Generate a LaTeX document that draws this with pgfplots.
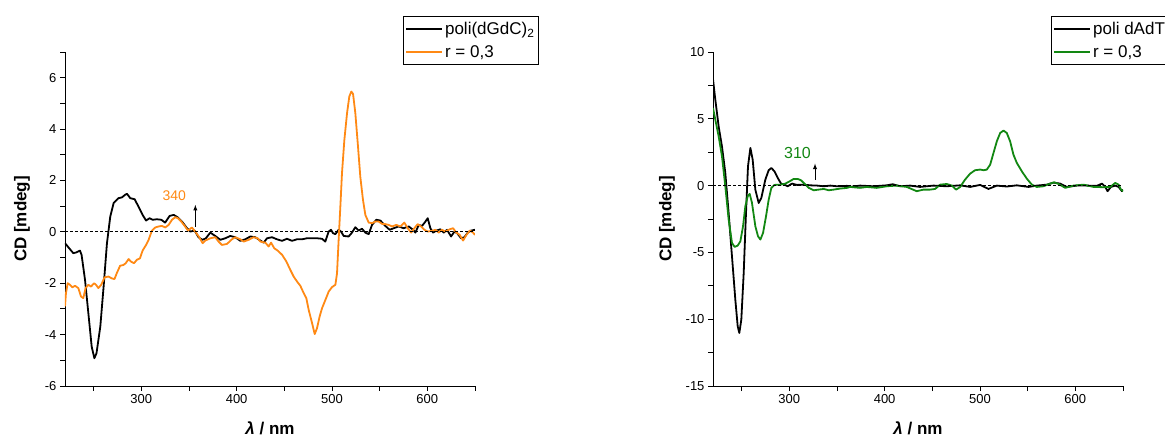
\documentclass[border=0pt]{standalone}
\usepackage{pgfplots}
\pgfplotsset{compat=1.18}
\usepackage{fontspec}
\setmainfont{Liberation Sans}
\definecolor{cdorange}{RGB}{255,137,20}
\definecolor{cdgreen}{RGB}{18,135,18}
\pgfplotsset{
  cdaxis/.style={
    scale only axis, width=410pt, height=334pt,
    axis lines*=left, axis line style={line width=0.9pt},
    tick align=outside, major tick length=5pt, minor tick length=5pt,
    tick style={line width=0.9pt, black},
    xmin=220, xmax=650,
    xtick={300,400,500,600}, minor xtick={250,350,450,550,650},
    xticklabels={300,400,500,600},
    ticklabel style={font=\fontsize{13}{15}\selectfont},
    /pgf/number format/assume math mode=true,
    xlabel={\textbf{\textit{λ} / nm}},
    ylabel={\textbf{CD [mdeg]}},
    label style={font=\fontsize{17}{19}\selectfont},
    xlabel style={at={(axis description cs:0.5,-0.128)}, anchor=center},
    legend cell align=left,
    legend style={font=\fontsize{17}{19}\selectfont, draw=black, line width=0.9pt,
      at={(axis description cs:0.824,1.108)}, anchor=north west,
      inner xsep=2pt, inner ysep=4pt, row sep=5pt},
    legend image code/.code={\draw[#1] (2pt,0pt) -- (38pt,0pt);},
    every axis plot/.append style={line width=1.8pt, line join=round},
  }
}
\begin{document}
\begin{tikzpicture}
\path[use as bounding box] (0,0) rectangle (1165pt,439pt);
% ---------------- left panel ----------------
\begin{axis}[cdaxis, at={(65pt,53pt)}, anchor=south west,
  ymin=-6, ymax=7, ytick={-6,-4,-2,0,2,4,6}, minor ytick={-5,-3,-1,1,3,5,7},
  yticklabels={-6,-4,-2,0,2,4,6},
  ylabel style={at={(axis description cs:-0.105,0.5)}, anchor=center}]
\addplot[black] coordinates {
(220,-0.44)(223.5,-0.6)(228.7,-0.83)(232,-0.8)(235.7,-0.73)(237.4,-0.9)(241,-1.87)(244.5,-3.17)(248,-4.47)(250.8,-4.92)(253,-4.73)(257,-3.7)(260.5,-2.13)(264,-0.44)(267.5,0.6)(271,1.12)(276,1.31)(279.7,1.34)(283,1.44)(285,1.48)(288.5,1.31)(293,1.27)(297,0.99)(301.4,0.66)(305,0.44)(308.7,0.53)(312,0.47)(316.4,0.49)(321,0.47)(325,0.36)(329.7,0.62)(334,0.66)(338,0.57)(342.7,0.40)(348,0.14)(351.4,0.01)(356,0.05)(360,-0.21)(364,-0.31)(367.5,-0.26)
(372.4,-0.03)(377.6,-0.16)(382.9,-0.31)(388.1,-0.25)(393.4,-0.16)(398.6,-0.21)(403.9,-0.35)(409.1,-0.29)(414.4,-0.18)(419.6,-0.21)(424.9,-0.34)(428.4,-0.42)(431.9,-0.25)(437.1,-0.21)(442.3,-0.29)(447.6,-0.35)(452.8,-0.27)(458.1,-0.35)(463.3,-0.29)(468.6,-0.29)(473.8,-0.25)(479.1,-0.25)(484.3,-0.25)(489.6,-0.27)(493,-0.38)(496.5,0.01)(499,0.08)(501,-0.05)(503.5,-0.09)(507,0.08)(509.5,0.01)(512.3,-0.16)(517.5,-0.18)(521,-0.03)(524.5,0.18)(528,0.05)(531.5,0.12)(535,-0.03)(538.5,-0.09)(542,0.27)(546.5,0.47)(550.7,0.44)(556,0.23)(560.5,0.08)(564.7,0.14)(570,0.21)(575.2,0.14)(580.5,0.21)(585,0.08)(587.5,-0.03)(591,0.27)(594.5,0.23)(598,0.40)(600.4,0.53)(603.2,0.14)(606,-0.03)(609.5,0.05)(613.7,0.10)(617.2,-0.03)(620.7,0.08)(624.9,-0.18)(628.4,0.01)(631.2,-0.05)(635.4,-0.25)(638.9,-0.21)(642.4,-0.03)(645.9,0.05)(650,0.08)
};
\addlegendentry{poli(dGdC)\textsubscript{2}}
\addplot[cdorange] coordinates {
(220,-2.9)(221,-2.39)(222.8,-2.0)(225.2,-2.06)(227.7,-2.16)(230.5,-2.1)(234,-2.19)(236.8,-2.52)(239.2,-2.58)(241.6,-2.19)(244.5,-2.06)(247.3,-2.13)(250.5,-2.0)(252.5,-2.06)(255,-2.19)(258,-2.06)(261.5,-1.77)(265.7,-1.74)(269,-1.81)(271.9,-1.84)(274.3,-1.61)(277.8,-1.32)(281.3,-1.29)(283.7,-1.22)(286.7,-1.06)(289.3,-1.16)(292.4,-1.22)(295.3,-1.09)(298.6,-1.03)(301.4,-0.73)(305,-0.51)(307.7,-0.31)(311.2,0.05)(314.7,0.17)(318.2,0.21)(321.7,0.23)(325.2,0.17)(328.7,0.27)(332.2,0.47)(335.7,0.57)(338.5,0.53)(342,0.40)(345.5,0.23)(349,0.05)(353.1,0.17)(356.6,0.01)(360.8,-0.21)(364.3,-0.44)(367.1,-0.34)
(372.4,-0.25)(377.6,-0.21)(381.1,-0.38)(384.6,-0.51)(389.9,-0.47)(395.1,-0.29)(398.6,-0.21)(403.9,-0.29)(407.4,-0.38)(412.6,-0.31)(417.9,-0.21)(422.1,-0.25)(424.9,-0.38)(430.1,-0.42)(433.6,-0.57)(436.1,-0.42)(439.5,-0.64)(443,-0.73)(447.6,-0.89)(452.1,-1.15)(456.3,-1.48)(459.8,-1.74)(463.3,-1.93)(466.8,-2.10)(470.3,-2.38)(473.1,-2.58)(475.6,-3.04)(479.1,-3.55)(481.9,-3.98)(484.3,-3.75)(487.1,-3.29)(489.6,-2.97)(493.1,-2.65)(496.6,-2.32)(500.1,-2.15)(503.6,-2.06)(505.3,-1.61)(507,-0.31)(508.8,0.99)(510.5,2.28)(513,3.58)(515.8,4.62)(518.2,5.27)(520.3,5.46)(522.1,5.37)(524.5,4.62)(527.3,3.32)(529.7,2.15)(532.5,1.25)(535,0.66)(538.5,0.36)(542,0.34)(545.5,0.40)(549,0.40)(552.5,0.31)(556,0.30)(559.5,0.27)(563,0.21)(567.5,0.27)(571.7,0.21)(575.9,0.36)(579.4,0.14)(583,-0.03)(586.4,0.14)(589.9,0.30)(593.4,0.21)(596.9,0.08)(600.4,0.01)(605,0.04)(608.4,0.08)(612,-0.03)(615.4,0.08)(619,0.01)(623.5,0.10)(627,0.14)(630.5,-0.03)(634,-0.12)(637.5,-0.34)(641,-0.12)(644.5,0.05)(648,-0.03)(650,-0.12)
};
\addlegendentry{r = 0,3}
\addplot[black, line width=0.8pt, densely dashed, forget plot] coordinates {(220,0)(650,0)};
\draw[-latex, line width=0.9pt] (axis cs:356.7,0.2) -- (axis cs:356.7,1.05);
\node[text=cdorange, font=\fontsize{14}{16}\selectfont] at (axis cs:334.6,1.4) {340};
\end{axis}
% ---------------- right panel ----------------
\begin{axis}[cdaxis, at={(713pt,53pt)}, anchor=south west,
  ymin=-15, ymax=10, ytick={-15,-10,-5,0,5,10}, minor ytick={-12.5,-7.5,-2.5,2.5,7.5},
  yticklabels={-15,-10,-5,0,5,10},
  ylabel style={at={(axis description cs:-0.112,0.5)}, anchor=center}]
\addplot[black] coordinates {
(220,7.98)(222.4,6.44)(225.9,4.44)(229.4,2.94)(232.9,0.95)(236.4,-2.05)(239.9,-5.29)(243.4,-8.53)(245.9,-10.53)(247.6,-11.03)(249.7,-10.03)(252.2,-6.54)(254.6,-2.05)(256.7,1.45)(259.2,2.82)(261.6,1.95)(264.4,-0.30)(267.9,-1.30)(270.7,-0.92)(274.9,0.45)(278.4,1.15)(281.2,1.32)(284.4,1.07)(287.9,0.57)(291.4,0.15)(294.9,0.07)(298.3,-0.05)(302.9,0.15)(308.1,0.05)(315.1,0.07)(322.1,0.02)(329.1,0)(336.1,-0.05)(343.1,0)(350.1,-0.05)(360.6,-0.02)
(363.8,-0.1)(374.2,0)(388.2,-0.05)(402.2,0.02)(408.5,0.1)(416.2,-0.05)(426.7,0)(437.2,-0.1)(451.2,0)(465.2,-0.05)(479.2,0.02)(489.7,-0.1)(500.2,0.05)(508.9,-0.25)(517.7,0)(528.1,-0.07)(538.6,0.02)(550.9,-0.1)(559.6,0)(570.1,0.07)(577.1,0.22)(584.1,0.15)(591.1,-0.1)(601.6,0)(612.1,0)(622.6,-0.02)(627.9,0.15)(631.4,-0.1)(633.8,-0.42)(637.3,-0.1)(641.9,0)(645.4,-0.1)(648.9,-0.42)(650,-0.3)
};
\addlegendentry{poli dAdT}
\addplot[cdgreen] coordinates {
(220,5.81)(222.4,4.94)(225.9,3.69)(229.4,2.2)(232.9,-0.05)(236.4,-2.54)(239.9,-4.29)(242.7,-4.59)(245.9,-4.49)(248.7,-4.17)(251.5,-3.04)(253.9,-1.55)(256.4,-0.80)(258.5,-0.62)(260.9,-1.30)(264.4,-3.04)(267.2,-3.79)(269.7,-4.04)(272.5,-3.54)(275.6,-2.30)(278.4,-1.05)(281.2,-0.17)(284.4,0.05)(290.7,0.07)(295.9,0.15)(300.4,0.32)(304.6,0.50)(308.8,0.50)(312.3,0.40)(315.8,0.15)(320.4,-0.17)(325.6,-0.35)(330.9,-0.30)(336.1,-0.25)(341.4,-0.35)(346.6,-0.30)(353.6,-0.22)(360.6,-0.17)
(363.8,-0.1)(374.2,-0.17)(381.2,-0.1)(391.7,-0.17)(402.2,-0.05)(412.7,0)(423.2,-0.1)(433.7,-0.42)(440.7,-0.3)(447.7,-0.3)(453,-0.25)(458.2,0.07)(465.2,0.12)(470.5,0)(475,-0.3)(479.2,-0.1)(484.4,0.45)(489.7,0.9)(494.9,1.15)(500.2,1.2)(503.7,1.15)(507.2,1.2)(510.7,1.57)(514.2,2.45)(517.7,3.32)(521.2,3.94)(524.7,4.12)(528.1,3.94)(531.6,3.32)(535.1,2.32)(538.6,1.70)(543.9,1.07)(549.1,0.52)(554.4,0.07)(559.6,-0.1)(566.6,-0.05)(573.6,0.15)(577.8,0.25)(582.4,0.12)(589.4,-0.17)(598.1,0)(608.6,0.07)(619.1,-0.1)(629.6,-0.12)(636.6,-0.1)(641.9,0.2)(645.4,0.07)(647.9,-0.3)(650,-0.42)
};
\addlegendentry{r = 0,3}
\addplot[black, line width=0.8pt, densely dashed, forget plot] coordinates {(220,0)(650,0)};
\draw[-latex, line width=0.9pt] (axis cs:327,0.45) -- (axis cs:327,1.65);
\node[text=cdgreen, font=\fontsize{16}{18}\selectfont] at (axis cs:308.6,2.47) {310};
\end{axis}
\end{tikzpicture}
\end{document}
